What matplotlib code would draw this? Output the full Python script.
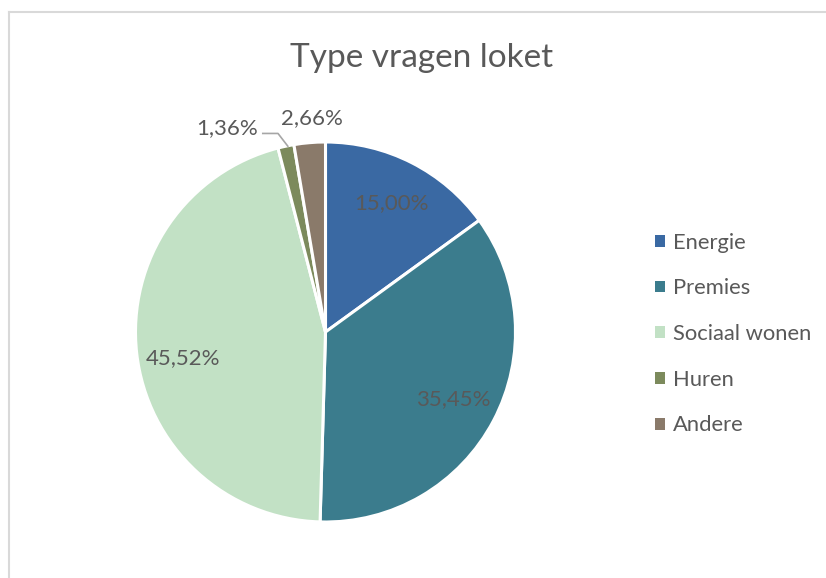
import matplotlib
matplotlib.use("Agg")
import matplotlib.pyplot as plt
import numpy as np
from matplotlib.lines import Line2D
from matplotlib.patches import Patch

categories = ["Energie", "Premies", "Sociaal wonen", "Huren", "Andere"]
shares = [15.00, 35.45, 45.52, 1.36, 2.66]
pct_labels = ["15,00%", "35,45%", "45,52%", "1,36%", "2,66%"]
colors = ["#3A69A3", "#3B7C8D", "#C2E1C5", "#7C8A5C", "#8A7A6A"]

txt = "#595959"
plt.rcParams["font.family"] = ["Lato", "DejaVu Sans"]

W, H = 826, 578
fig = plt.figure(figsize=(W / 100, H / 100), dpi=100)

# pie axes: center ~ (325.5, 332) px, radius ~190 px
cx, cy, r = 325.5, 332, 190
ax = fig.add_axes([(cx - r) / W, (H - cy - r) / H, 2 * r / W, 2 * r / H])
wedges, _ = ax.pie(
    shares, colors=colors, startangle=90, counterclock=False,
    wedgeprops=dict(edgecolor="white", linewidth=2.2),
)
ax.set_xlim(-1, 1)
ax.set_ylim(-1, 1)
ax.set_aspect("equal")
ax.axis("off")

# data labels inside the big slices
for i, w in enumerate(wedges):
    mid = np.deg2rad((w.theta1 + w.theta2) / 2 + (4 if i == 2 else 0))
    if shares[i] > 10:
        d = 0.76
        ax.text(d * np.cos(mid), d * np.sin(mid), pct_labels[i], ha="center",
                va="center", fontsize=16, color=txt)

# small slices: labels outside
th_h = np.deg2rad((wedges[3].theta1 + wedges[3].theta2) / 2)
th_a = np.deg2rad((wedges[4].theta1 + wedges[4].theta2) / 2)
ax.text(1.13 * np.cos(th_a) + 0.025, 1.13 * np.sin(th_a), pct_labels[4],
        ha="center", va="center", fontsize=16, color=txt)
lx, ly = -0.52, 1.075
ax.text(lx, ly, pct_labels[3], ha="center", va="center", fontsize=16, color=txt)
ex, ey = 1.0 * np.cos(th_h) + 0.01, 1.0 * np.sin(th_h)
ax.plot([-0.33, -0.25, ex], [1.045, 1.045, ey], color="#A6A6A6", lw=1.2,
        clip_on=False)

fig.text(422 / W, 1 - 58 / H, "Type vragen loket", ha="center", va="center",
         fontsize=24, color=txt)

handles = [Patch(facecolor=c, edgecolor="none") for c in colors]
fig.legend(handles, categories, loc="center left",
           bbox_to_anchor=(655 / W, 1 - 334 / H), frameon=False,
           fontsize=15.8, labelcolor=txt, handlelength=0.46, handleheight=0.46,
           handletextpad=0.35, labelspacing=1.17, borderpad=0, borderaxespad=0)

# chart border
for xs, ys in [([9 / W, 1], [1 - 12 / H, 1 - 12 / H]), ([9 / W, 9 / W], [0, 1 - 12 / H])]:
    fig.add_artist(Line2D(xs, ys, color="#D9D9D9", lw=1.5))

fig.savefig("out.png", dpi=100)
